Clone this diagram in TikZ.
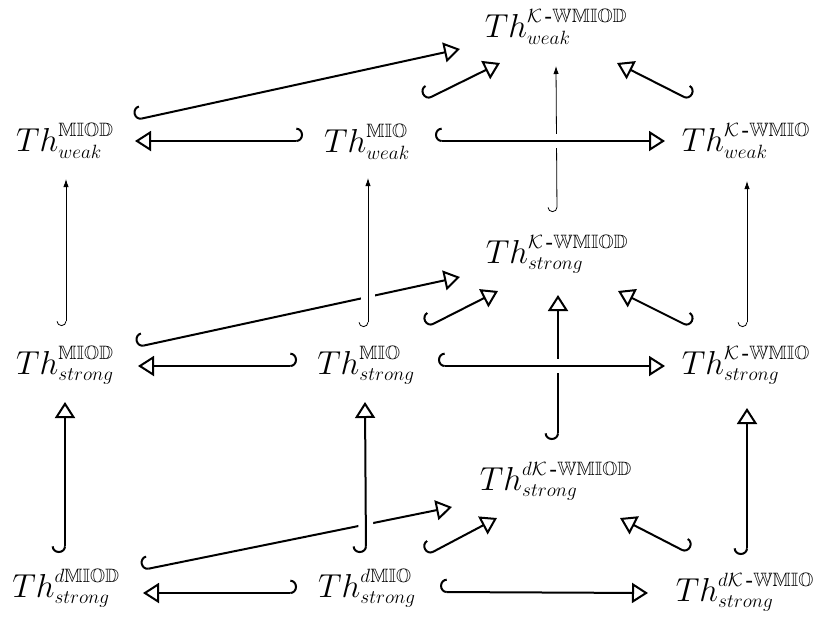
\documentclass[tikz,border=0pt]{standalone}
\usepackage{amsmath,amssymb}
\DeclareMathSizes{26}{26}{14.5}{11}
\usetikzlibrary{arrows.meta}
\begin{document}
\begin{tikzpicture}[x=0.75pt,y=-0.75pt,
  lab/.style={inner sep=0pt, font=\fontsize{26}{30}\selectfont},
  thkL/.style={line width=1.5pt, {Hooks[right,width=20pt,length=5pt]}-{Triangle[open,length=12pt,width=15pt]}},
  thkR/.style={line width=1.5pt, {Hooks[left,width=20pt,length=5pt]}-{Triangle[open,length=12pt,width=15pt]}},
  thnL/.style={line width=0.6pt, {Hooks[right,width=14pt,length=3.5pt]}-{Latex[length=6pt,width=4pt]}},
  over/.style={preaction={draw=white, line width=11pt, -, shorten <=18pt, shorten >=18pt}}]
\useasboundingbox (0,0) rectangle (822,619);
\newcommand{\kh}{\mathcal{K}\,\textbf{-}}
% weak layer
\node[lab] (wMIOD) at (65,141) {$Th^{\mathbb{MIOD}}_{weak}$};
\node[lab] (wMIO) at (367,142) {$Th^{\mathbb{MIO}}_{weak}$};
\node[lab] (wKMIO) at (746,141) {$Th^{\kh\mathbb{WMIO}}_{weak}$};
\node[lab] (wKMIOD) at (556,27) {$Th^{\kh\mathbb{WMIOD}}_{weak}$};
% strong layer
\node[lab] (sMIOD) at (65,365) {$Th^{\mathbb{MIOD}}_{strong}$};
\node[lab] (sMIO) at (366,365) {$Th^{\mathbb{MIO}}_{strong}$};
\node[lab] (sKMIO) at (746,365) {$Th^{\kh\mathbb{WMIO}}_{strong}$};
\node[lab] (sKMIOD) at (557,254) {$Th^{\kh\mathbb{WMIOD}}_{strong}$};
% d strong layer
\node[lab] (dMIOD) at (66,588) {$Th^{d\mathbb{MIOD}}_{strong}$};
\node[lab] (dMIO) at (367,588) {$Th^{d\mathbb{MIO}}_{strong}$};
\node[lab] (dKMIO) at (745,592) {$Th^{d\kh\mathbb{WMIO}}_{strong}$};
\node[lab] (dKMIOD) at (556,481) {$Th^{d\kh\mathbb{WMIOD}}_{strong}$};

% ---- weak layer arrows
\draw[thkR] ([shift={(-64,-1)}]wMIO.center) -- ([shift={(70,0)}]wMIOD.center);
\draw[thkL] ([shift={(70,-21)}]wMIOD.center) -- ([shift={(-96,22)}]wKMIOD.center);
\draw[thkL] ([shift={(58,-42)}]wMIO.center) -- ([shift={(-56,36)}]wKMIOD.center);
\draw[thkR] ([shift={(-56,-41)}]wKMIO.center) -- ([shift={(61,36)}]wKMIOD.center);
% thin verticals strong -> weak
\draw[thnL] ([shift={(1,-39)}]sMIOD.center) -- ([shift={(1,38)}]wMIOD.center);
\draw[thnL] ([shift={(0,-42)}]sKMIOD.center) -- ([shift={(0,39)}]wKMIOD.center);
\draw[thnL] ([shift={(1,-38)}]sKMIO.center) -- ([shift={(1,40)}]wKMIO.center);
\draw[thkL,over] ([shift={(68,-1)}]wMIO.center) -- ([shift={(-81,0)}]wKMIO.center);

% ---- strong layer arrows
\draw[thkR] ([shift={(-69,1)}]sMIO.center) -- ([shift={(73,1)}]sMIOD.center);
\draw[thkL] ([shift={(72,-18)}]sMIOD.center) -- ([shift={(-97,23)}]sKMIOD.center);
\draw[thnL,over] ([shift={(2,-38)}]sMIO.center) -- ([shift={(1,36)}]wMIO.center);
\draw[thkL] ([shift={(61,-38)}]sMIO.center) -- ([shift={(-59,37)}]sKMIOD.center);
\draw[thkR] ([shift={(-56,-38)}]sKMIO.center) -- ([shift={(61,37)}]sKMIOD.center);
% thick verticals d -> strong
\draw[thkL] ([shift={(-1,-35)}]dMIOD.center) -- ([shift={(0,37)}]sMIOD.center);
\draw[thkL] ([shift={(2,-41)}]dKMIOD.center) -- ([shift={(1,41)}]sKMIOD.center);
\draw[thkL] ([shift={(2,-37)}]dKMIO.center) -- ([shift={(1,43)}]sKMIO.center);
\draw[thkL,over] ([shift={(72,1)}]sMIO.center) -- ([shift={(-81,1)}]sKMIO.center);

% ---- d strong layer arrows
\draw[thkR] ([shift={(-70,5)}]dMIO.center) -- ([shift={(77,5)}]dMIOD.center);
\draw[thkL] ([shift={(73,4)}]dMIO.center) -- ([shift={(-97,1)}]dKMIO.center);
\draw[thkL] ([shift={(76,-18)}]dMIOD.center) -- ([shift={(-104,26)}]dKMIOD.center);
\draw[thkL,over] ([shift={(-1,-35)}]dMIO.center) -- ([shift={(-1,37)}]sMIO.center);
\draw[thkL] ([shift={(60,-33)}]dMIO.center) -- ([shift={(-59,37)}]dKMIOD.center);
\draw[thkR] ([shift={(-57,-39)}]dKMIO.center) -- ([shift={(64,37)}]dKMIOD.center);
\end{tikzpicture}
\end{document}
